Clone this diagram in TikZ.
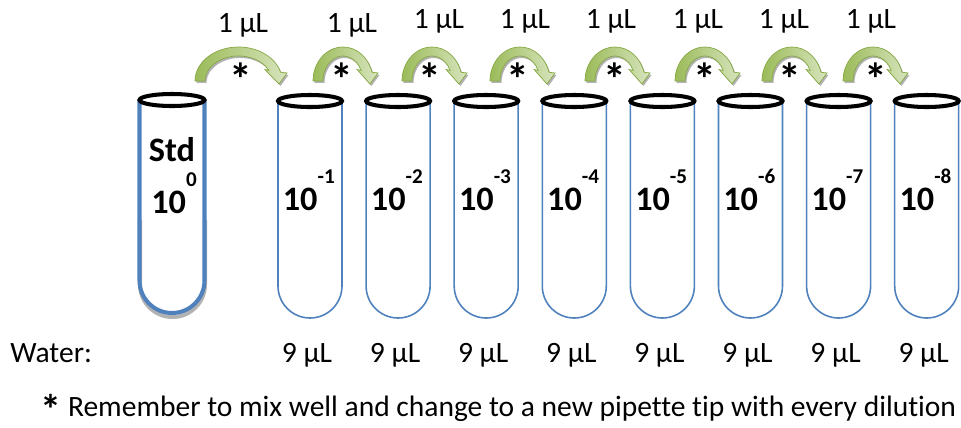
\documentclass[tikz,border=0pt]{standalone}
\usepackage{fontspec}
\setmainfont{Carlito}[Ligatures=CommonOff]
\definecolor{tubeblue}{HTML}{4F81BD}
\definecolor{leafgreen}{HTML}{9BBB59}
\definecolor{palegreen}{HTML}{D7E4BD}
\definecolor{darkleaf}{HTML}{86A843}
\tikzset{
  wall/.style={draw=tubeblue,line width=0.9pt},
  rim/.style={draw=black,line width=2.3pt},
  conc/.style={font=\fontsize{19.5}{19.5}\selectfont\bfseries,inner sep=0pt},
  lbl/.style={font=\fontsize{16.8}{16.8}\selectfont,inner sep=0pt},
  star/.style={font=\fontsize{26}{26}\selectfont\bfseries,inner sep=0pt},
  tube/.pic={
    \draw[wall] (-32,0) -- (-32,-185) arc[start angle=180,end angle=360,radius=32] -- (32,0);
    \draw[rim] (0,0) ellipse[x radius=32,y radius=6];
  },
  stdtube/.pic={
    \draw[gray!60,line width=2.3pt] (-32,-120) -- (-32,-184.5) arc[start angle=180,end angle=360,radius=32.5] -- (33,-120);
    \draw[wall,line width=2.3pt] (-32.5,0) -- (-32.5,-180.5) arc[start angle=180,end angle=360,radius=32.5] -- (32.5,0);
    \draw[rim] (0,0) ellipse[x radius=32.5,y radius=6];
  },
  transfer/.pic={
    \pgfmathsetmacro\aw{#1}
    \pgfmathsetmacro\rad{(\aw-5)/2}
    \pgfmathsetmacro\inx{\rad+0.906*(\rad-10)}
    \def\bend{(0,0) arc[start angle=180,end angle=15,x radius=\rad,y radius=34]
      -- (\aw,8) -- (\aw-8,-3) -- (\inx-4,11.5) -- (\inx,10.6)
      arc[start angle=25,end angle=180,x radius=\rad-10,y radius=25] -- cycle}
    \fill[gray!60,shift={(1.5,-2)}] \bend;
    \shade[left color=leafgreen,right color=palegreen,draw=darkleaf,line width=0.4pt] \bend;
  }
}

\begin{document}
\begin{tikzpicture}[x=0.02cm,y=0.02cm]
\useasboundingbox (0,0) rectangle (961,-427);
\pic at (172,-100) {stdtube};
\node[conc,anchor=base] (std) at (172,-161) {Std};
\node[conc,anchor=base] (dil0) at (174,-213) {10\raisebox{15pt}{\fontsize{12}{12}\selectfont 0}};
\foreach \i in {1,...,8}{
  \pgfmathsetmacro\c{310+88.1*(\i-1)}
  \pic at (\c,-101) {tube};
  \node[conc,anchor=base west] (dil\i) at (\c-27.5,-210) {10\raisebox{15pt}{\fontsize{12}{12}\selectfont -\i}};
  \node[lbl,anchor=base] (vol\i) at (\c-3,-362) {9 µL};
}
\foreach \lx/\aw/\sx/\tx/\ty [count=\k] in {195/92/241/243/32,313/65/342/352/32,402/65/430/439/28,490/65/518/525/28,585/65/615/611/28,675/65/705/698/28,762/65/790/784/28,843/65/876/871/28}{
  \pic at (\lx,-81) {transfer=\aw};
  \node[star,anchor=base] (mix\k) at (\sx,-95) {*};
  \node[lbl,anchor=base] (amt\k) at (\tx,-\ty) {1 µL};
}
\node[lbl,anchor=base west] (water) at (10,-362) {Water:};
\node[lbl,anchor=base west] (note) at (40,-416) {\smash{\raisebox{-5pt}{\fontsize{24}{24}\selectfont\bfseries *}} Remember to mix well and change to a new pipette tip with every dilution};
\end{tikzpicture}
\end{document}
